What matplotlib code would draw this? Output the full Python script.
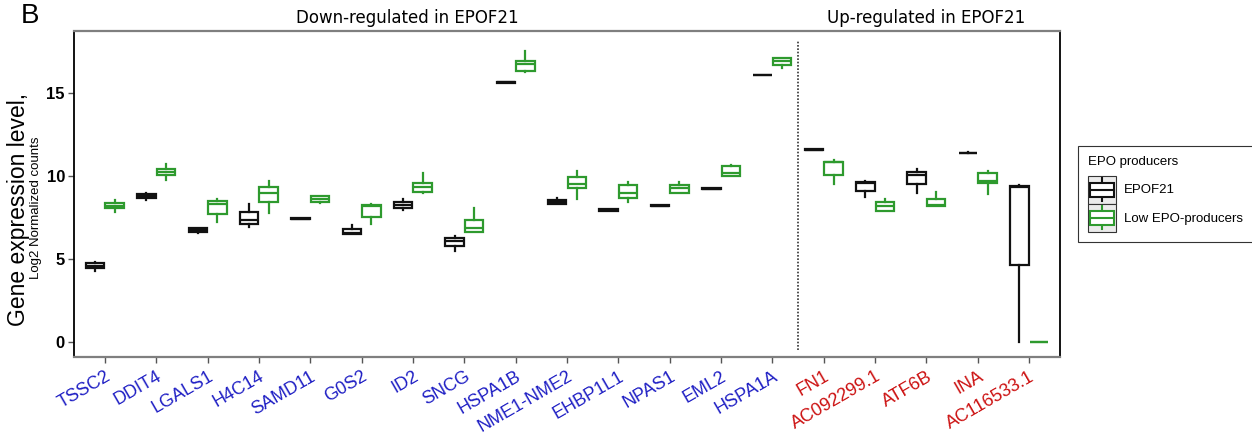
import matplotlib
matplotlib.use('Agg')
import matplotlib.pyplot as plt
from matplotlib.legend_handler import HandlerBase
from matplotlib.patches import Rectangle
from matplotlib.lines import Line2D

plt.rcParams['font.family'] = ['Liberation Sans', 'DejaVu Sans']

genes = ["TSSC2", "DDIT4", "LGALS1", "H4C14", "SAMD11", "G0S2", "ID2", "SNCG",
         "HSPA1B", "NME1-NME2", "EHBP1L1", "NPAS1", "EML2", "HSPA1A",
         "FN1", "AC092299.1", "ATF6B", "INA", "AC116533.1"]
n_down = 14

# EPOF21 (black)
epo_lo = [4.28, 8.57, 6.55, 6.91, 7.40, 6.49, 7.95, 5.50, 15.60, 8.30, 7.88, 8.18, 9.23, 16.06,
          11.56, 8.75, 9.00, 11.37, 0.00]
epo_q1 = [4.46, 8.69, 6.65, 7.11, 7.41, 6.49, 8.09, 5.78, 15.61, 8.32, 7.91, 8.19, 9.23, 16.07,
          11.57, 9.11, 9.52, 11.38, 4.64]
epo_med = [4.58, 8.80, 6.76, 7.37, 7.43, 6.55, 8.27, 6.07, 15.63, 8.45, 7.95, 8.21, 9.24, 16.08,
           11.58, 9.55, 10.08, 11.39, 9.35]
epo_q3 = [4.76, 8.93, 6.87, 7.85, 7.45, 6.81, 8.45, 6.25, 15.65, 8.54, 7.99, 8.23, 9.25, 16.10,
          11.60, 9.62, 10.24, 11.41, 9.38]
epo_hi = [4.80, 8.96, 6.89, 8.31, 7.47, 7.05, 8.60, 6.39, 15.67, 8.67, 8.02, 8.25, 9.26, 16.11,
          11.61, 9.68, 10.40, 11.42, 9.46]

# Low EPO-producers (green)
low_lo = [7.83, 9.74, 7.25, 7.75, 8.35, 7.13, 9.00, 6.60, 16.25, 8.60, 8.41, 8.98, 10.00, 16.50,
          9.54, 7.91, 8.21, 8.92, 0.00]
low_q1 = [8.07, 10.04, 7.71, 8.42, 8.45, 7.51, 9.04, 6.65, 16.30, 9.26, 8.69, 8.98, 10.02, 16.70,
          10.04, 7.91, 8.21, 9.56, 0.00]
low_med = [8.21, 10.22, 8.29, 8.96, 8.60, 8.21, 9.32, 6.87, 16.73, 9.54, 8.99, 9.28, 10.20, 16.90,
           10.84, 8.19, 8.25, 9.72, 0.00]
low_q3 = [8.37, 10.40, 8.48, 9.34, 8.78, 8.27, 9.58, 7.35, 16.90, 9.94, 9.46, 9.46, 10.58, 17.10,
          10.86, 8.42, 8.60, 10.16, 0.00]
low_hi = [8.55, 10.70, 8.63, 9.70, 8.80, 8.33, 10.20, 8.05, 17.53, 10.28, 9.62, 9.66, 10.66, 17.12,
          10.96, 8.61, 9.04, 10.28, 0.00]

BLACK = '#111111'
GREEN = '#2e9a2e'
BLUE = '#1f1fc4'
RED = '#cc1111'


def make_stats(lo, q1, med, q3, hi):
    return [dict(whislo=a, q1=b, med=c, q3=d, whishi=e, fliers=[])
            for a, b, c, d, e in zip(lo, q1, med, q3, hi)]


def draw_group(ax, stats, positions, color):
    lp = dict(color=color, linewidth=1.6)
    ax.bxp(stats, positions=positions, widths=0.36, showcaps=False, showfliers=False,
           patch_artist=True,
           boxprops=dict(facecolor='white', edgecolor=color, linewidth=1.6),
           whiskerprops=lp, medianprops=lp, manage_ticks=False)


class BoxHandler(HandlerBase):
    def create_artists(self, legend, orig_handle, xdescent, ydescent, width, height, fontsize, trans):
        c = orig_handle.get_edgecolor()
        x0, y0 = -xdescent, -ydescent
        bg = Rectangle((x0, y0), width, height, facecolor='#ebebeb', edgecolor='#333333',
                       lw=0.8, transform=trans)
        cx = x0 + width / 2
        wl = Line2D([cx, cx], [y0 + height * 0.1, y0 + height * 0.9], color=c, lw=1.5, transform=trans)
        box = Rectangle((x0 + width * 0.08, y0 + height * 0.25), width * 0.84, height * 0.5,
                        facecolor='white', edgecolor=c, lw=1.5, transform=trans)
        med = Line2D([x0 + width * 0.08, x0 + width * 0.92], [y0 + height / 2] * 2, color=c, lw=1.5,
                     transform=trans)
        return [bg, wl, box, med]


fig = plt.figure(figsize=(12.52, 4.34), dpi=100)
ax = fig.add_axes([74 / 1252, 1 - 357 / 434, (1060 - 74) / 1252, (357 - 31) / 434])

pos = list(range(1, len(genes) + 1))
draw_group(ax, make_stats(epo_lo, epo_q1, epo_med, epo_q3, epo_hi), [p - 0.19 for p in pos], BLACK)
draw_group(ax, make_stats(low_lo, low_q1, low_med, low_q3, low_hi), [p + 0.19 for p in pos], GREEN)

ax.vlines(n_down + 0.5, -0.5, 18.15, colors='#333333', linestyles=(0, (1, 1)), linewidth=1.2)

ax.set_xlim(0.4, 19.6)
ax.set_ylim(-0.9, 18.73)
ax.set_yticks([0, 5, 10, 15])
ax.set_yticklabels(['0', '5', '10', '15'], fontsize=12, fontweight='bold')
ax.set_xticks(pos)
ax.set_xticklabels(genes, rotation=30, ha='right', rotation_mode='anchor', fontsize=13)
for i, t in enumerate(ax.get_xticklabels()):
    t.set_color(BLUE if i < n_down else RED)
ax.tick_params(axis='both', length=4.5, width=1, color='#555555', pad=2)
ax.tick_params(axis='x', pad=3.5)

for s in ['top', 'bottom']:
    ax.spines[s].set_color('#7f7f7f')
    ax.spines[s].set_linewidth(1.6)
for s in ['left', 'right']:
    ax.spines[s].set_color('#000000')
    ax.spines[s].set_linewidth(1.3)

xt = ax.get_xaxis_transform()
ax.text(6.9, 1.025, 'Down-regulated in EPOF21', transform=xt, ha='center', va='baseline',
        fontsize=12, family='DejaVu Sans')
ax.text(17.0, 1.025, 'Up-regulated in EPOF21', transform=xt, ha='center', va='baseline',
        fontsize=12, family='DejaVu Sans')

fig.text(21 / 1252, 1 - 23 / 434, 'B', fontsize=20, va='baseline', ha='left')
fig.text(19 / 1252, 1 - 210 / 434, 'Gene expression level,', rotation=90, ha='center', va='center',
         fontsize=16.5)
fig.text(36 / 1252, 1 - 208 / 434, 'Log2 Normalized counts', rotation=90, ha='center', va='center',
         fontsize=9.5)

h1 = Rectangle((0, 0), 1, 1, edgecolor=BLACK, facecolor='white')
h2 = Rectangle((0, 0), 1, 1, edgecolor=GREEN, facecolor='white')
leg = fig.legend([h1, h2], ['EPOF21', 'Low EPO-producers'], title='EPO producers',
                 handler_map={Rectangle: BoxHandler()}, loc='upper left',
                 bbox_to_anchor=(1078 / 1252, 1 - 146 / 434), fontsize=9.5, title_fontsize=9.5,
                 handlelength=2.15, handleheight=2.9, labelspacing=0, handletextpad=0.6,
                 borderpad=0.75, borderaxespad=0, alignment='left', fancybox=False, framealpha=1)
leg.get_frame().set_edgecolor('#333333')
leg.get_frame().set_linewidth(0.8)
leg._legend_box.sep = 5.5  # gap between title and keys

fig.savefig('out.png', dpi=100)
